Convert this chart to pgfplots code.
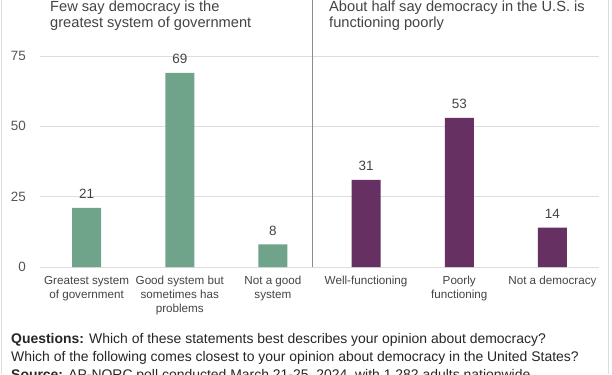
\documentclass[border=0pt]{standalone}
\usepackage{pgfplots}
\pgfplotsset{compat=1.18}
\usepackage{fontspec}
\setmainfont{Liberation Sans}
\definecolor{bargreen}{HTML}{6FA38A}
\definecolor{barpurple}{HTML}{663162}
\definecolor{txt}{HTML}{444444}
\definecolor{tck}{HTML}{555555}
\definecolor{grd}{HTML}{DDDDDD}
\begin{document}
\begin{tikzpicture}[x=1bp,y=1bp]
\useasboundingbox (0,0) rectangle (612,374);
\fill[white] (0,0) rectangle (612,374);
\begin{axis}[
  at={(40bp,107bp)}, anchor=south west,
  scale only axis, width=559bp, height=211bp,
  xmin=-0.5, xmax=5.5, ymin=0, ymax=75,
  axis line style={draw=none},
  tick style={draw=none},
  ymajorgrids, grid style={grd, line width=0.8bp},
  ytick={0,25,50,75},
  xtick={0,1,2,3,4,5},
  xticklabels={{Greatest system\\of government},{Good system but\\sometimes has\\problems},{Not a good\\system},{Well-functioning},{Poorly\\functioning},{Not a democracy}},
  xticklabel style={font=\fontsize{11.7}{14}\selectfont, text=txt, align=center, anchor=north, inner sep=0pt, yshift=-9bp},
  yticklabel style={font=\fontsize{13.5}{16}\selectfont, text=tck, anchor=east, inner sep=0pt, xshift=-14bp},
  /pgf/number format/assume math mode=true,
  clip=false,
]
\addplot[ybar, bar width=29bp, bar shift=0pt, fill=bargreen, draw=none,
  nodes near coords, every node near coord/.append style={font=\fontsize{13.5}{16}\selectfont, text=txt, anchor=base, yshift=9bp, inner sep=0pt}]
  coordinates {(0,21) (1,69) (2,8)};
\addplot[ybar, bar width=29bp, bar shift=0pt, fill=barpurple, draw=none,
  nodes near coords, every node near coord/.append style={font=\fontsize{13.5}{16}\selectfont, text=txt, anchor=base, yshift=9bp, inner sep=0pt}]
  coordinates {(3,31) (4,53) (5,14)};
\end{axis}
\draw[gray!90, line width=0.8bp] (312,107) -- (312,374);
\draw[grd, line width=1bp] (1,0) -- (1,374);
\draw[grd, line width=1bp] (608.5,0) -- (608.5,374);
\begin{scope}[every node/.style={inner sep=0pt, anchor=base west, text=txt, font=\fontsize{14.7}{16}\selectfont}]
\node at (50,374-11) {Few say democracy is the};
\node at (50,374-27) {greatest system of government};
\node at (329,374-11) {About half say democracy in the U.S. is};
\node at (329,374-27) {functioning poorly};
\end{scope}
\begin{scope}[every node/.style={inner sep=0pt, anchor=base west, text=black!85, font=\fontsize{14}{16}\selectfont}]
\node at (11,374-343) {\textbf{Questions:} Which of these statements best describes your opinion about democracy?};
\node at (11,374-361) {Which of the following comes closest to your opinion about democracy in the United States?};
\node at (11,374-379) {\textbf{Source:} AP-NORC poll conducted March 21-25, 2024, with 1,282 adults nationwide.};
\end{scope}
\end{tikzpicture}
\end{document}
